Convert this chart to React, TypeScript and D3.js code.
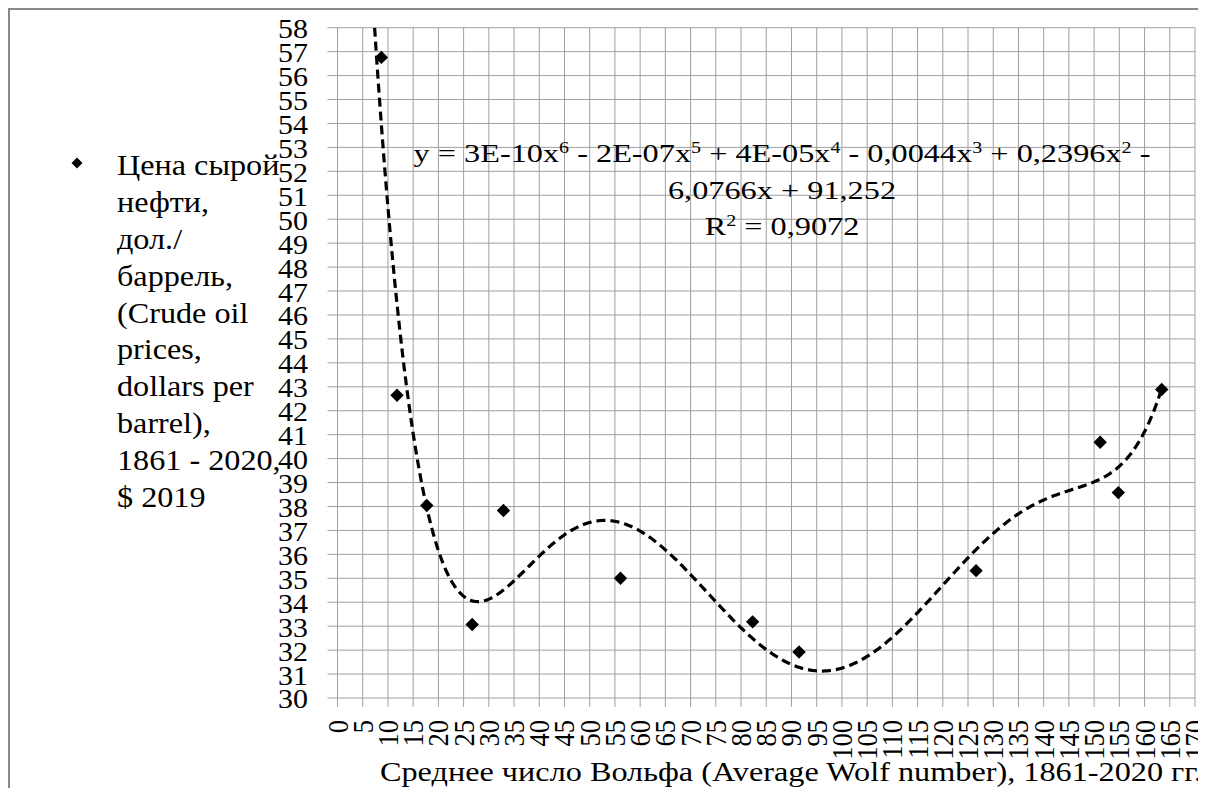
import React from "react";
import * as d3 from "d3";

// average Wolf number per solar cycle vs crude oil price
const wolfNumbers = [8.7, 11.8, 17.7, 26.7, 32.9, 56.1, 82.3, 91.5, 126.6, 151.2, 154.8, 163.4];
const oilPrices = [56.76, 42.65, 38.04, 33.07, 37.83, 35.0, 33.18, 31.92, 35.32, 40.68, 38.58, 42.89];

const xTicks = d3.range(0, 171, 5);
const yTicks = d3.range(30, 59, 1);

const legendLines = [
  "Цена сырой",
  "нефти,",
  "дол./",
  "баррель,",
  "(Crude oil",
  "prices,",
  "dollars per",
  "barrel),",
  "1861 - 2020,",
  "$ 2019",
];

const xTitle = "Среднее число Вольфа (Average Wolf number), 1861-2020 гг.";

// equation pieces: [text, superscript]
const eqLine1: [string, string][] = [
  ["y = 3E-10x", "6"],
  [" - 2E-07x", "5"],
  [" + 4E-05x", "4"],
  [" - 0,0044x", "3"],
  [" + 0,2396x", "2"],
  [" -", ""],
];
const eqLine2 = "6,0766x + 91,252";
const eqLine3: [string, string][] = [
  ["R", "2"],
  [" = 0,9072", ""],
];

// least squares polynomial fit (x scaled for stability)
function polyfit(xs: number[], ys: number[], deg: number, s: number) {
  const n = deg + 1;
  const A: number[][] = Array.from({ length: n }, () => new Array(n + 1).fill(0));
  xs.forEach((x0, k) => {
    const u = x0 / s;
    for (let i = 0; i < n; i++) {
      for (let j = 0; j < n; j++) A[i][j] += Math.pow(u, i + j);
      A[i][n] += Math.pow(u, i) * ys[k];
    }
  });
  for (let c = 0; c < n; c++) {
    let p = c;
    for (let r = c + 1; r < n; r++) if (Math.abs(A[r][c]) > Math.abs(A[p][c])) p = r;
    [A[c], A[p]] = [A[p], A[c]];
    for (let r = 0; r < n; r++) {
      if (r === c) continue;
      const f = A[r][c] / A[c][c];
      for (let j = c; j <= n; j++) A[r][j] -= f * A[c][j];
    }
  }
  const coef = A.map((row, i) => row[n] / row[i]);
  return (x: number) => coef.reduce((acc, cf, i) => acc + cf * Math.pow(x / s, i), 0);
}

const serif = { fontFamily: '"Liberation Serif"' };
// text blocks are drawn in a vertically squeezed group (like the equation block)
const sq = 0.9;

function App() {
  const width = 1198;
  const height = 780;
  const marginLeft = 329.5;
  const marginRight = 11;
  const marginTop = 19.7;
  const plotBottom = 690;

  const x = d3.scaleLinear().domain([0, 170]).range([marginLeft, width - marginRight]);
  const y = d3.scaleLinear().domain([30, 58]).range([plotBottom, marginTop]);

  const fit = polyfit(wolfNumbers, oilPrices, 6, 100);
  const xMax = d3.max(wolfNumbers) as number;
  const curveXs = d3.range(0, xMax, 0.25).concat([xMax]);
  const trend = d3
    .line<number>()
    .x((d) => x(d))
    .y((d) => y(Math.min(fit(d), 70)))(curveXs) as string;

  const diamond = d3.symbol(d3.symbolSquare, 90)() as string;
  const legendDiamond = d3.symbol(d3.symbolSquare, 60)() as string;

  const eqX = 774;
  const eqSize = 32.3;
  const renderParts = (parts: [string, string][]) =>
    parts.flatMap(([s, sup], i) => [
      <tspan key={`t${i}`}>{s}</tspan>,
      sup ? (
        <tspan key={`s${i}`} fontSize={20} baselineShift="super">
          {sup}
        </tspan>
      ) : null,
    ]);

  return (
    <svg width={width} height={height} style={{ display: "block", background: "#fff" }}>
      {/* chart border */}
      <rect x={1} y={1} width={width + 40} height={height + 60} fill="#fff" stroke="#898989" strokeWidth={2} />

      <g stroke="#a0a0a0" strokeWidth={1}>
        {yTicks.map((d) => (
          <line key={`h${d}`} x1={marginLeft - 10} x2={width - marginRight} y1={y(d)} y2={y(d)} />
        ))}
        {xTicks.map((d) => (
          <line key={`v${d}`} x1={x(d)} x2={x(d)} y1={marginTop} y2={plotBottom + 9} />
        ))}
      </g>

      {/* y tick labels */}
      <g transform={`scale(1,${sq})`}>
        {yTicks.map((d) => (
          <text key={d} x={marginLeft - 29.5} y={(y(d) + 10.5) / sq} textAnchor="end" fontSize={30} style={serif}>
            {d}
          </text>
        ))}
      </g>

      {/* x tick labels, rotated */}
      <g transform={`scale(1,${sq})`}>
        {xTicks.map((d) => (
          <text
            key={d}
            transform={`translate(${x(d) + 10},${(plotBottom + 22) / sq}) rotate(-90)`}
            textAnchor="end"
            fontSize={29.5}
            style={serif}
          >
            {d}
          </text>
        ))}
      </g>

      {/* polynomial trendline */}
      <clipPath id="plot-clip">
        <rect x={marginLeft} y={marginTop} width={width - marginRight - marginLeft} height={plotBottom - marginTop} />
      </clipPath>
      <path d={trend} clipPath="url(#plot-clip)" fill="none" stroke="#000" strokeWidth={3.2} strokeDasharray="9,5" />

      {/* points */}
      <g fill="#000">
        {wolfNumbers.map((d, i) => (
          <path key={i} d={diamond} transform={`translate(${x(d)},${y(oilPrices[i])}) rotate(45)`} />
        ))}
      </g>

      {/* legend */}
      <path d={legendDiamond} fill="#000" transform="translate(69,155) rotate(45)" />
      <g transform={`scale(1,${sq})`}>
        {legendLines.map((d, i) => (
          <text key={i} x={109} y={(167 + i * 36.9) / sq} fontSize={32.2} style={serif}>
            {d}
          </text>
        ))}
      </g>

      {/* trendline equation */}
      <g transform={`translate(${eqX},0) scale(1,0.8) translate(${-eqX},0)`}>
        <text x={eqX} y={154 / 0.8} textAnchor="middle" fontSize={eqSize} style={serif}>
          {renderParts(eqLine1)}
        </text>
        <text x={eqX} y={191 / 0.8} textAnchor="middle" fontSize={eqSize} style={serif}>
          {eqLine2}
        </text>
        <text x={eqX} y={227 / 0.8} textAnchor="middle" fontSize={eqSize} style={serif}>
          {renderParts(eqLine3)}
        </text>
      </g>

      {/* x axis title */}
      <g transform={`scale(1,${sq})`}>
        <text x={372} y={773 / sq} fontSize={30.2} textLength={822} lengthAdjust="spacingAndGlyphs" style={serif}>
          {xTitle}
        </text>
      </g>
    </svg>
  );
}

export default App;
